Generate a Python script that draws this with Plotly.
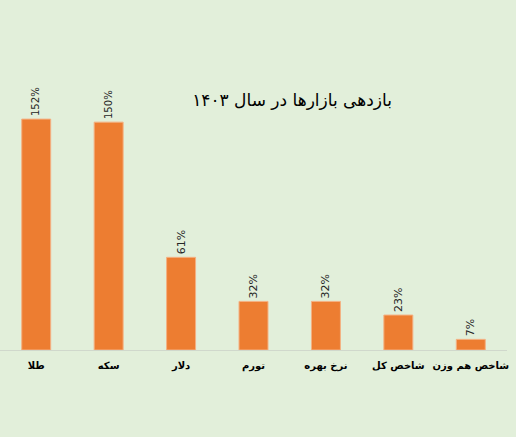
import plotly.graph_objects as go

categories = ["طلا", "سکه", "دلار", "تورم", "نرخ بهره", "شاخص کل", "شاخص هم وزن"]
returns = [152, 150, 61, 32, 32, 23, 7]
labels = [f"{v}%" for v in returns]

fig = go.Figure(
    data=go.Bar(
        x=categories,
        y=returns,
        text=labels,
        textposition="outside",
        textangle=-90,
        textfont=dict(family="DejaVu Sans", size=11, color="#262626"),
        cliponaxis=False,
        hoverinfo="skip",
        marker=dict(color="#ED7D31", line=dict(color="#F4B183", width=1)),
    )
)
fig.update_layout(
    width=516,
    height=437,
    paper_bgcolor="#E2EFDA",
    plot_bgcolor="#E2EFDA",
    margin=dict(l=0, r=9, t=31, b=87),
    bargap=0.6,
    showlegend=False,
    title=dict(
        text="بازدهی بازارها در سال ۱۴۰۳",
        font=dict(family="DejaVu Sans", size=17, color="#000000"),
        x=0.566, xanchor="center",
        y=0.77, yanchor="middle",
    ),
    xaxis=dict(
        showline=True, linecolor="#D0D8CC", linewidth=1,
        ticks="", showgrid=False, ticklabelstandoff=6,
        tickfont=dict(family="DejaVu Sans", size=10, color="#000000", weight="bold"),
    ),
    yaxis=dict(range=[0, 210], visible=False, showgrid=False),
)
fig.write_html(
    "out.html",
    config={"displayModeBar": False},
    post_script="document.body.style.margin='0';document.body.style.overflow='hidden';",
)
